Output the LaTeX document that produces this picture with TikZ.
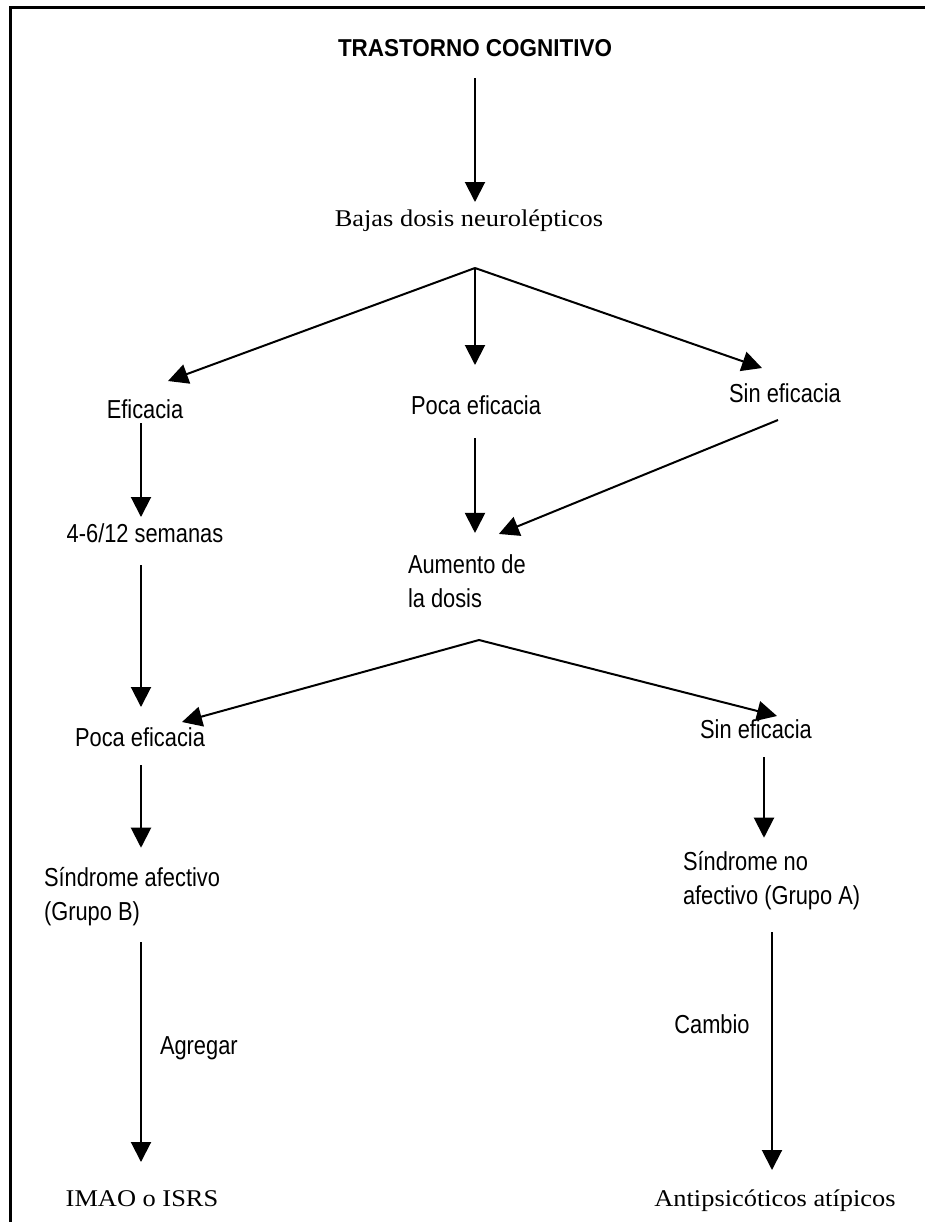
\documentclass[tikz,border=0pt]{standalone}
\usepackage{fontspec}
\usepackage{tikz}
\usetikzlibrary{arrows.meta}
\newfontfamily\sansnarrow{Liberation Sans}[FakeStretch=0.84]
\newfontfamily\sansbold{Liberation Sans Bold}[FakeStretch=0.92]
\newfontfamily\serifwide{Liberation Serif}[FakeStretch=1.1]
\newcommand{\sanstxt}{\sansnarrow\fontsize{13}{17}\selectfont}
\newcommand{\titletxt}{\sansbold\fontsize{12.2}{14}\selectfont}
\newcommand{\seriftxt}{\serifwide\fontsize{12}{15}\selectfont}
\tikzset{
  txt/.style={font=\sanstxt, inner sep=0pt, outer sep=0pt, text height=9.5pt, text depth=2.5pt},
  twoline/.style={font=\sanstxt, inner sep=0pt, outer sep=0pt, align=left},
  serif/.style={font=\seriftxt, inner sep=0pt, outer sep=0pt, text height=8.5pt, text depth=2.5pt},
  titlebox/.style={font=\titletxt, inner sep=0pt, outer sep=0pt, text height=9pt, text depth=0pt},
  arr/.style={-{Triangle[length=10pt,width=10pt]}, line width=1pt},
}
\begin{document}
\begin{tikzpicture}[x=0.5pt,y=0.5pt]
      \useasboundingbox (0,0) rectangle (925,-1222);
      \draw[line width=1.2pt] (10.5,-1222) -- (10.5,-7.5) -- (925,-7.5);
      \coordinate (colL) at (141,0);
      \coordinate (colR1) at (764,0);
      \coordinate (colR2) at (772,0);
      \node[titlebox] (title) at (475,-47.5) {TRASTORNO COGNITIVO};
      \node[serif] (bajas) at (469,-220) {Bajas dosis neurolépticos};
      \coordinate (fork1) at (475,-268);
      \node[txt] (efic) at (145,-411) {Eficacia};
      \node[txt] (poca1) at (476,-407) {Poca eficacia};
      \node[txt] (sin1) at (785,-395) {Sin eficacia};
      \node[txt] (sem) at (145,-535) {4-6/12 semanas};
      \node[twoline, anchor=west] (aum) at (408,-581.5) {Aumento de\\la dosis};
      \coordinate (fork2) at (479,-640);
      \node[txt] (poca2) at (140,-739) {Poca eficacia};
      \node[txt] (sin2) at (756,-731) {Sin eficacia};
      \node[twoline, anchor=west] (sindB) at (44,-897) {Síndrome afectivo\\(Grupo B)};
      \node[twoline, anchor=west] (sindA) at (683,-881) {Síndrome no\\afectivo (Grupo A)};
      \node[txt, anchor=west] (agregar) at (160,-1047) {Agregar};
      \node[txt] (cambio) at (712,-1026) {Cambio};
      \node[serif] (imao) at (142,-1200) {IMAO o ISRS};
      \node[serif] (antip) at (775,-1200) {Antipsicóticos atípicos};
      \draw[arr, shorten <=10.75pt, shorten >=3.5pt] (title.south) -- (title.south |- bajas.north);
      \draw[arr] (fork1) -- ([shift={(23,18)}]efic.north);
      \draw[arr, shorten >=15pt] (fork1) -- (fork1 |- poca1.north);
      \draw[arr] (fork1) -- ([shift={(-23,15)}]sin1.north);
      \draw[arr, shorten >=3pt] (efic.south -| colL) -- (sem.north -| colL);
      \draw[arr, shorten <=9pt, shorten >=10pt] (sem.south -| colL) -- (poca2.north -| colL);
      \draw[arr, shorten <=9.5pt, shorten >=11pt] (fork1 |- poca1.south) -- (fork1 |- aum.north);
      \draw[arr] ([shift={(-7,-13)}]sin1.south) -- ([shift={(32,21)}]aum.north);
      \draw[arr] (fork2) -- ([shift={(42,5)}]poca2.north);
      \draw[arr] (fork2) -- ([shift={(21,3)}]sin2.north);
      \draw[arr, shorten <=7pt, shorten >=10pt] (poca2.south -| colL) -- (sindB.north -| colL);
      \draw[arr, shorten <=7pt, shorten >=7pt] (sin2.south -| colR1) -- (sindA.north -| colR1);
      \draw[arr, shorten <=8pt, shorten >=13.5pt] (sindB.south -| colL) -- (imao.north -| colL);
      \draw[arr, shorten <=11pt, shorten >=9.5pt] (sindA.south -| colR2) -- (antip.north -| colR2);
\end{tikzpicture}
\end{document}
